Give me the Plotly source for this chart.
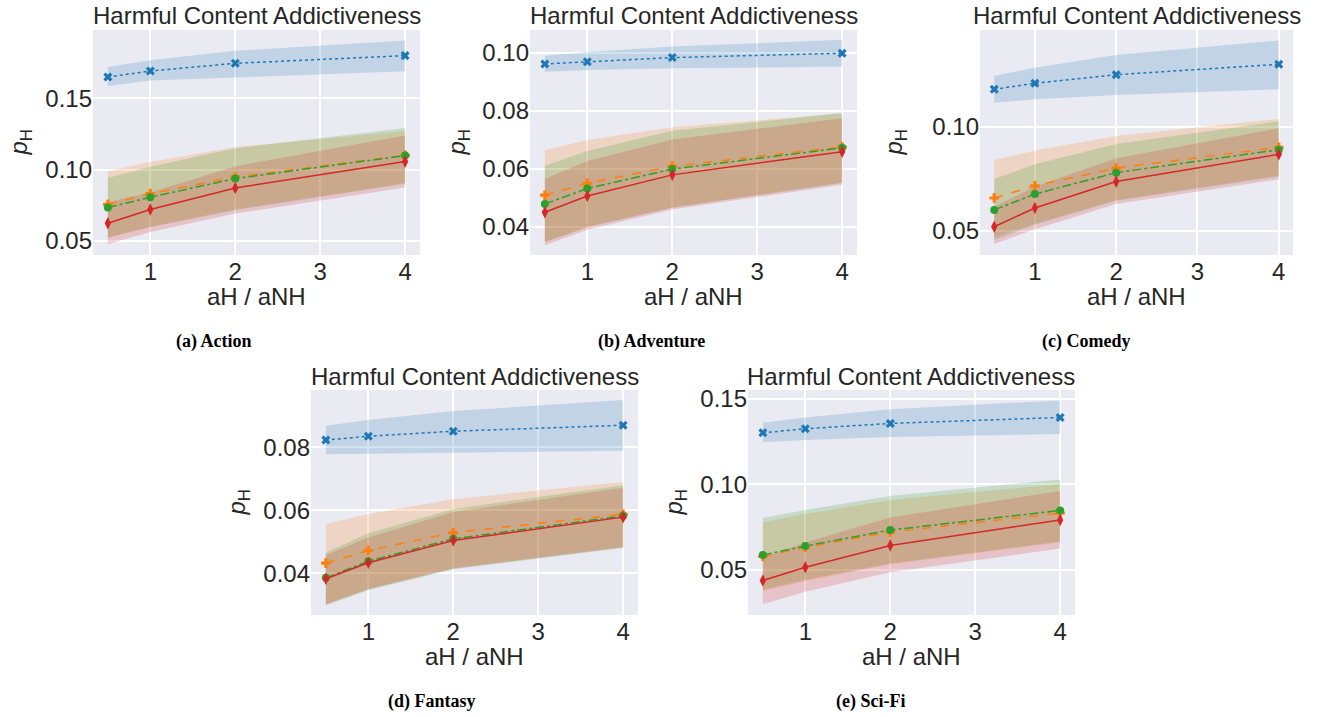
import plotly.graph_objects as go

# ---------------- data ----------------
X_RATIO = [0.5, 1, 2, 4]
X_TICKS = [1, 2, 3, 4]
PANEL_CAPTIONS = ["(a) Action", "(b) Adventure", "(c) Comedy", "(d) Fantasy", "(e) Sci-Fi"]
TITLE = "Harmful Content Addictiveness"
X_LABEL = "aH / aNH"

# (a) Action
action_blue = [0.1650, 0.1692, 0.1746, 0.1800]
action_blue_lo = [0.1586, 0.1625, 0.1650, 0.1690]
action_blue_hi = [0.1720, 0.1767, 0.1834, 0.1907]
action_orange = [0.0756, 0.0831, 0.0948, 0.1100]
action_orange_lo = [0.0519, 0.0597, 0.0721, 0.0906]
action_orange_hi = [0.0988, 0.1053, 0.1159, 0.1270]
action_green = [0.0733, 0.0806, 0.0937, 0.1098]
action_green_lo = [0.0525, 0.0597, 0.0715, 0.0900]
action_green_hi = [0.0941, 0.1020, 0.1150, 0.1292]
action_red = [0.0623, 0.0719, 0.0871, 0.1056]
action_red_lo = [0.0477, 0.0562, 0.0691, 0.0874]
action_red_hi = [0.0773, 0.0839, 0.1024, 0.1240]

# (b) Adventure
adventure_blue = [0.0961, 0.0969, 0.0983, 0.0998]
adventure_blue_lo = [0.0934, 0.0940, 0.0946, 0.0952]
adventure_blue_hi = [0.0989, 0.1001, 0.1021, 0.1044]
adventure_orange = [0.0509, 0.0550, 0.0609, 0.0675]
adventure_orange_lo = [0.0349, 0.0400, 0.0467, 0.0553]
adventure_orange_hi = [0.0664, 0.0699, 0.0743, 0.0791]
adventure_green = [0.0479, 0.0532, 0.0599, 0.0672]
adventure_green_lo = [0.0347, 0.0399, 0.0466, 0.0551]
adventure_green_hi = [0.0610, 0.0661, 0.0731, 0.0792]
adventure_red = [0.0450, 0.0506, 0.0579, 0.0659]
adventure_red_lo = [0.0337, 0.0390, 0.0460, 0.0545]
adventure_red_hi = [0.0565, 0.0627, 0.0701, 0.0774]

# (c) Comedy
comedy_blue = [0.1180, 0.1209, 0.1250, 0.1300]
comedy_blue_lo = [0.1115, 0.1132, 0.1152, 0.1180]
comedy_blue_hi = [0.1244, 0.1284, 0.1345, 0.1415]
comedy_orange = [0.0657, 0.0716, 0.0801, 0.0901]
comedy_orange_lo = [0.0470, 0.0535, 0.0648, 0.0765]
comedy_orange_hi = [0.0840, 0.0885, 0.0955, 0.1038]
comedy_green = [0.0600, 0.0676, 0.0779, 0.0889]
comedy_green_lo = [0.0455, 0.0528, 0.0644, 0.0760]
comedy_green_hi = [0.0749, 0.0819, 0.0917, 0.1026]
comedy_red = [0.0519, 0.0609, 0.0736, 0.0867]
comedy_red_lo = [0.0436, 0.0507, 0.0628, 0.0747]
comedy_red_hi = [0.0615, 0.0712, 0.0848, 0.0992]

# (d) Fantasy
fantasy_blue = [0.0823, 0.0835, 0.0851, 0.0870]
fantasy_blue_lo = [0.0778, 0.0780, 0.0783, 0.0789]
fantasy_blue_hi = [0.0868, 0.0887, 0.0915, 0.0950]
fantasy_orange = [0.0432, 0.0472, 0.0529, 0.0587]
fantasy_orange_lo = [0.0302, 0.0350, 0.0416, 0.0483]
fantasy_orange_hi = [0.0556, 0.0588, 0.0635, 0.0690]
fantasy_green = [0.0385, 0.0438, 0.0509, 0.0582]
fantasy_green_lo = [0.0297, 0.0346, 0.0412, 0.0480]
fantasy_green_hi = [0.0466, 0.0527, 0.0604, 0.0679]
fantasy_red = [0.0382, 0.0433, 0.0504, 0.0578]
fantasy_red_lo = [0.0300, 0.0349, 0.0414, 0.0482]
fantasy_red_hi = [0.0458, 0.0513, 0.0594, 0.0671]

# (e) Sci-Fi
scifi_blue = [0.1302, 0.1326, 0.1357, 0.1392]
scifi_blue_lo = [0.1246, 0.1260, 0.1277, 0.1295]
scifi_blue_hi = [0.1361, 0.1392, 0.1440, 0.1492]
scifi_orange = [0.0577, 0.0631, 0.0720, 0.0832]
scifi_orange_lo = [0.0375, 0.0434, 0.0531, 0.0660]
scifi_orange_hi = [0.0778, 0.0826, 0.0908, 0.1002]
scifi_green = [0.0586, 0.0638, 0.0732, 0.0847]
scifi_green_lo = [0.0380, 0.0440, 0.0536, 0.0665]
scifi_green_hi = [0.0803, 0.0850, 0.0932, 0.1029]
scifi_red = [0.0436, 0.0514, 0.0642, 0.0791]
scifi_red_lo = [0.0297, 0.0371, 0.0484, 0.0624]
scifi_red_hi = [0.0571, 0.0659, 0.0806, 0.0961]

Y_RANGES = [[0.0400, 0.1980], [0.0303, 0.1078], [0.0383, 0.1465], [0.0267, 0.0982], [0.0234, 0.1553]]
Y_TICKS = [[0.05, 0.10, 0.15], [0.04, 0.06, 0.08, 0.10], [0.05, 0.10], [0.04, 0.06, 0.08], [0.05, 0.10, 0.15]]

# ---------------- styling / layout ----------------
W, H = 1317, 717
BG = "#EAEAF2"
TXT = "#262626"
SANS = "Liberation Sans, Arial, sans-serif"
COLORS = {"blue": "#1f77b4", "orange": "#ff7f0e", "green": "#2ca02c", "red": "#d62728"}
FILLS = {"blue": "rgba(31,119,180,0.2)", "orange": "rgba(255,127,14,0.2)",
         "green": "rgba(44,160,44,0.2)", "red": "rgba(214,39,40,0.2)"}
DASH = {"blue": "dot", "orange": "dash", "green": "dashdot", "red": "solid"}
SYMBOL = {"blue": "x", "orange": "cross", "green": "circle", "red": "diamond-tall"}
MSIZE = {"blue": 8, "orange": 8, "green": 8, "red": 9}

# panel boxes in pixels: left, right, top, bottom
BOXES = [(93, 420, 30, 255), (530, 857, 30, 255), (980, 1293, 30, 255),
         (311, 638, 390, 615), (748, 1075, 390, 615)]
YLABEL_X = [20, 458, 895, 238, 675]
CAPTION_X = [214, 651, 1086, 432, 870]

panels = [
    {k: globals()[f"{p}_{k}"] for k in ["blue", "blue_lo", "blue_hi", "orange", "orange_lo", "orange_hi",
                                        "green", "green_lo", "green_hi", "red", "red_lo", "red_hi"]}
    for p in ["action", "adventure", "comedy", "fantasy", "scifi"]
]

fig = go.Figure()
annotations = []
layout_axes = {}

def px_x(v):
    return v / W

def px_y(v):
    return 1 - v / H

for i, pdata in enumerate(panels):
    n = i + 1
    xa = "x" if n == 1 else f"x{n}"
    ya = "y" if n == 1 else f"y{n}"
    l, r, t, b = BOXES[i]
    layout_axes[f"xaxis{'' if n == 1 else n}"] = dict(
        domain=[px_x(l), px_x(r)], anchor=ya, range=[0.325, 4.175],
        tickvals=X_TICKS, showgrid=True, gridcolor="white", gridwidth=1.5,
        zeroline=False, showline=False, ticks="", automargin=False,
        tickfont=dict(size=24, color=TXT, family=SANS),
    )
    layout_axes[f"yaxis{'' if n == 1 else n}"] = dict(
        domain=[px_y(b), px_y(t)], anchor=xa, range=Y_RANGES[i],
        tickvals=Y_TICKS[i], tickformat=".2f", showgrid=True, gridcolor="white", gridwidth=1.5,
        zeroline=False, showline=False, ticks="", automargin=False,
        tickfont=dict(size=24, color=TXT, family=SANS),
    )
    # bands
    for c in ["blue", "orange", "green", "red"]:
        lo = pdata[f"{c}_lo"]
        hi = pdata[f"{c}_hi"]
        fig.add_trace(go.Scatter(
            x=X_RATIO + X_RATIO[::-1], y=hi + lo[::-1], fill="toself",
            fillcolor=FILLS[c], line=dict(width=0), mode="lines",
            hoverinfo="skip", showlegend=False, xaxis=xa, yaxis=ya))
    # lines
    for c in ["blue", "orange", "green", "red"]:
        fig.add_trace(go.Scatter(
            x=X_RATIO, y=pdata[c], mode="lines+markers",
            line=dict(color=COLORS[c], width=1.5, dash=DASH[c]),
            marker=dict(symbol=SYMBOL[c], size=MSIZE[c], color=COLORS[c], line=dict(width=0)),
            showlegend=False, xaxis=xa, yaxis=ya))
    cx = (l + r) / 2
    annotations.append(dict(text=TITLE, x=px_x(cx), y=px_y(t - 14), xref="paper", yref="paper",
                            showarrow=False, xanchor="center", yanchor="middle",
                            font=dict(size=24, color=TXT, family=SANS)))
    annotations.append(dict(text=X_LABEL, x=px_x(cx), y=px_y(b + 41), xref="paper", yref="paper",
                            showarrow=False, xanchor="center", yanchor="middle",
                            font=dict(size=24, color=TXT, family=SANS)))
    annotations.append(dict(text="<i>p</i><sub>H</sub>", x=px_x(YLABEL_X[i]), y=px_y((t + b) / 2),
                            xref="paper", yref="paper", showarrow=False, textangle=-90,
                            xanchor="center", yanchor="middle",
                            font=dict(size=24, color=TXT, family=SANS)))
    annotations.append(dict(text=f"<b>{PANEL_CAPTIONS[i]}</b>", x=px_x(CAPTION_X[i]), y=px_y(b + 86),
                            xref="paper", yref="paper", showarrow=False, xanchor="center", yanchor="middle",
                            font=dict(size=18, color="black", family="Liberation Serif, Times New Roman, serif")))

fig.update_layout(
    width=W, height=H, margin=dict(l=0, r=0, t=0, b=0),
    paper_bgcolor="white", plot_bgcolor=BG, showlegend=False,
    annotations=annotations, **layout_axes,
)

fig.write_html("out.html", config={"displayModeBar": False},
               post_script="document.body.style.margin='0';document.body.style.overflow='hidden';")
